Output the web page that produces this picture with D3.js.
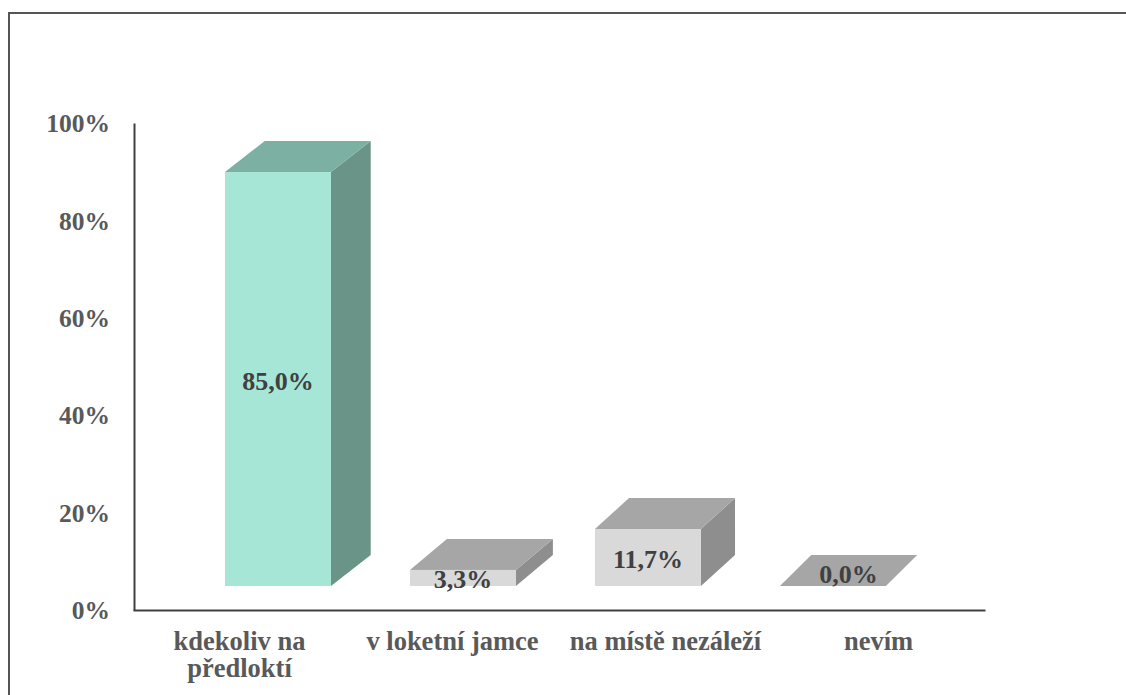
<!DOCTYPE html>
<html>
<head>
<meta charset="utf-8">
<script src="https://cdn.jsdelivr.net/npm/d3@7"></script>
<style>
	body { margin: 0; background: #fff; }
	svg { display: block; }
	.axis text { font-family: "Liberation Serif", "Times New Roman", serif; font-weight: bold; font-size: 25.5px; fill: #595959; }
	.axis path { stroke: #404040; stroke-width: 2px; }
	.cat-label { font-family: "Liberation Serif", "Times New Roman", serif; font-weight: bold; font-size: 26.5px; fill: #595959; }
	.data-label { font-family: "Liberation Serif", "Times New Roman", serif; font-weight: bold; font-size: 26px; fill: #404040; }
</style>
</head>
<body>
<svg id="chart" width="1126" height="695"></svg>
<script>
// data
var categories = ["kdekoliv na předloktí", "v loketní jamce", "na místě nezáleží", "nevím"];
var values = [0.85, 0.033, 0.117, 0.0];
var y_ticks = [0, 0.2, 0.4, 0.6, 0.8, 1.0];

// face colours per bar: [front, top, side]
var colours = [
	["#a6e6d6", "#7bb0a2", "#6a9488"],
	["#d9d9d9", "#a6a6a6", "#8e8e8e"],
	["#d9d9d9", "#a6a6a6", "#8e8e8e"],
	["#d9d9d9", "#a6a6a6", "#8e8e8e"]
];

var width = 1126, height = 695;
var plot = { left: 133, right: 985, top: 123, bottom: 610 };
var floor_lift = 24;     // front face sits above the drawn axis line
var depth_y = -31;       // oblique depth, vertical part

var svg = d3.select('#chart');

// frame (bottom / right edge run off the picture)
svg.append('rect')
	.attr('x', 9).attr('y', 13)
	.attr('width', 1300).attr('height', 900)
	.attr('fill', 'none').attr('stroke', '#555').attr('stroke-width', 2);

var x = d3.scaleBand()
	.domain(categories)
	.range([plot.left, plot.right])
	.paddingInner(0.427)
	.paddingOuter(0.2135);

var y = d3.scaleLinear().domain([0, 1]).range([plot.bottom, plot.top]);

// slight perspective: bars pulled toward the middle, depth shrinks to the right
var vp_x = 532, shrink = 0.8685;
function front_x(v){ return vp_x + (v - vp_x) * shrink; }
function depth_x(cx){ return 44 - 0.0153 * cx; }

var fmt = d3.formatLocale({ decimal: ",", thousands: " ", grouping: [3], currency: ["", " Kč"] }).format(".1%");

var bars = svg.append('g').attr('class', 'bars');
categories.forEach(function(c, i){
	var x0 = front_x(x(c)), x1 = front_x(x(c) + x.bandwidth());
	var yb = y(0) - floor_lift, yt = y(values[i]) - floor_lift;
	var dx = depth_x((x0 + x1) / 2), dy = depth_y;
	var g = bars.append('g').attr('class', 'bar');
	var pts = function(a){ return a.map(function(p){ return p.join(','); }).join(' '); };
	// side
	g.append('polygon')
		.attr('points', pts([[x1, yb], [x1 + dx, yb + dy], [x1 + dx, yt + dy], [x1, yt]]))
		.attr('fill', colours[i][2]);
	// top
	g.append('polygon')
		.attr('points', pts([[x0, yt], [x0 + dx, yt + dy], [x1 + dx, yt + dy], [x1, yt]]))
		.attr('fill', colours[i][1]);
	// front
	if (yb - yt > 0) {
		g.append('rect')
			.attr('x', x0).attr('y', yt)
			.attr('width', x1 - x0).attr('height', yb - yt)
			.attr('fill', colours[i][0]);
	}
	var lx, ly;
	if (values[i] > 0) {
		lx = (x0 + x1) / 2; ly = (yt + yb) / 2 + 2;
	} else {
		lx = (x0 + x1) / 2 + dx / 2; ly = yt + dy / 2 + 4;
	}
	g.append('text')
		.attr('class', 'data-label')
		.attr('x', lx).attr('y', ly)
		.attr('text-anchor', 'middle')
		.attr('dominant-baseline', 'central')
		.text(fmt(values[i]));
});

// axes
var yaxis = d3.axisLeft(y).tickValues(y_ticks).tickFormat(d3.format('.0%'))
	.tickSizeInner(0).tickSizeOuter(0).tickPadding(24);
svg.append('g').attr('class', 'axis axis-y')
	.attr('transform', 'translate(' + (plot.left + 1) + ',0)')
	.call(yaxis)
	.selectAll('text').attr('dy', '0.34em');

var xaxis = d3.axisBottom(x).tickSizeInner(0).tickSizeOuter(0).tickFormat('');
svg.append('g').attr('class', 'axis axis-x')
	.attr('transform', 'translate(0,' + plot.bottom + ')')
	.call(xaxis);

// category labels, wrapped to the band step
var cats = svg.append('g').attr('class', 'cat-labels');
categories.forEach(function(c){
	var cx = x(c) + x.bandwidth() / 2;
	var t = cats.append('text').attr('class', 'cat-label')
		.attr('x', cx).attr('y', 650)
		.attr('text-anchor', 'middle');
	var words = c.split(' '), line = [];
	var tspan = t.append('tspan').attr('x', cx).attr('dy', 0);
	words.forEach(function(w){
		line.push(w);
		tspan.text(line.join(' '));
		if (tspan.node().getComputedTextLength() > x.step() - 10 && line.length > 1) {
			line.pop();
			tspan.text(line.join(' '));
			line = [w];
			tspan = t.append('tspan').attr('x', cx).attr('dy', 27).text(w);
		}
	});
});
</script>
</body>
</html>
